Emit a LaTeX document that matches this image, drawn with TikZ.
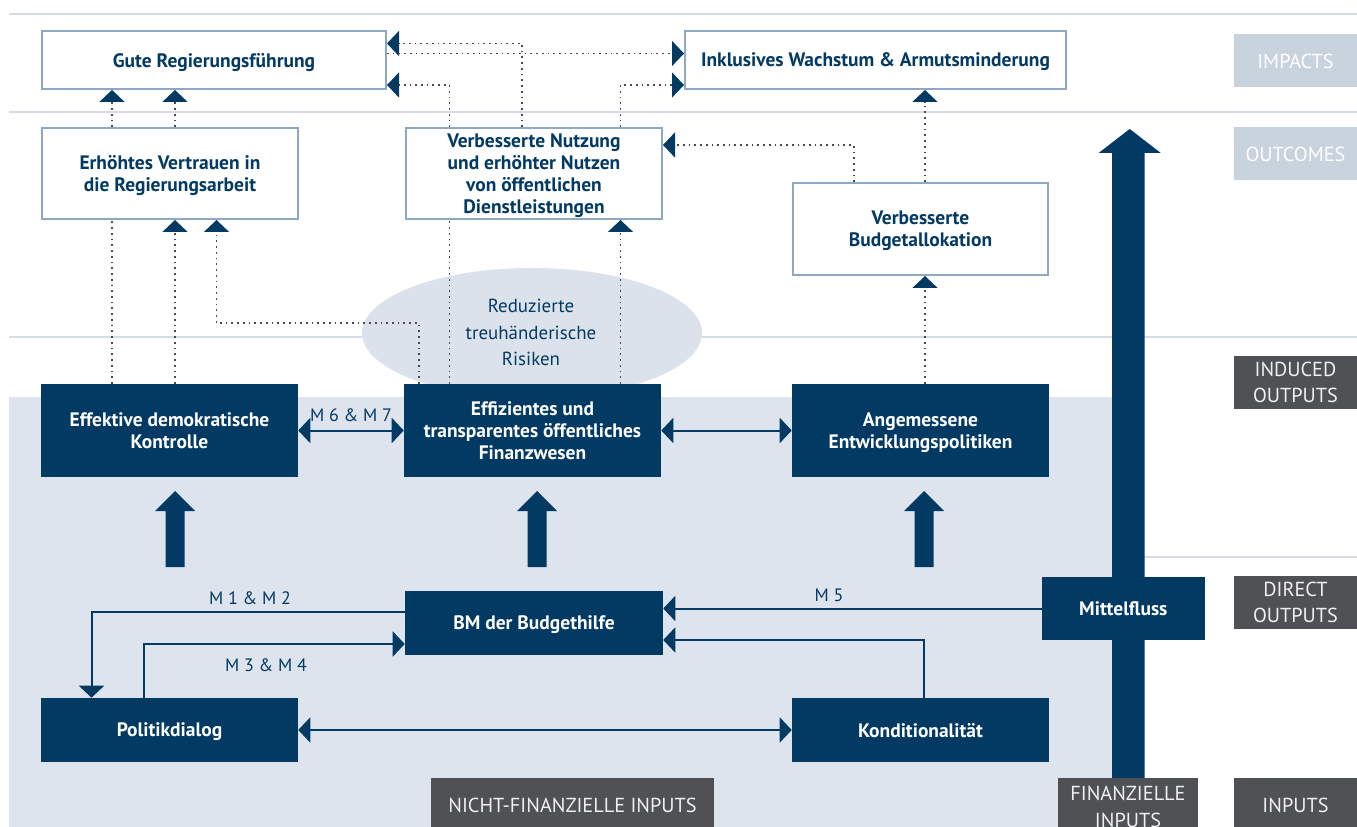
\documentclass[tikz,border=0pt]{standalone}
\usepackage{fontspec}
\setmainfont{PT Sans}
\usetikzlibrary{arrows.meta}
\definecolor{navy}{HTML}{023A63}
\definecolor{bordc}{HTML}{8EA7C5}
\definecolor{hline}{HTML}{D5DCE6}
\definecolor{shadec}{HTML}{DEE4EE}
\definecolor{ellc}{HTML}{DCE2EC}
\definecolor{labl}{HTML}{C9D3DE}
\definecolor{labd}{HTML}{4F5155}
\definecolor{dotc}{HTML}{4A4A4A}
\begin{document}
\begin{tikzpicture}[x=0.75pt,y=-0.75pt,
  wbox/.style={draw=bordc, line width=1.5pt, fill=white, text=navy, align=center, inner sep=0pt,
    text depth=-1.5pt, font=\bfseries\fontsize{14.6}{16.5}\selectfont},
  nbox/.style={fill=navy, text=white, align=center, inner sep=0pt,
    text depth=-1.5pt, font=\bfseries\fontsize{14.6}{16.5}\selectfont},
  lab/.style={fill=labl, text=white, align=center, inner sep=0pt,
    font=\fontsize{15.2}{20}\selectfont, minimum width=92.25pt, minimum height=39.75pt},
  dlab/.style={lab, fill=labd, text=white!94!black},
  mlab/.style={text=navy, inner sep=0pt, font=\fontsize{13.5}{16}\selectfont},
  dotl/.style={draw=dotc, line width=1.3pt, dash pattern=on 1.3pt off 3pt},
  conn/.style={draw=navy, line width=1.5pt},
  ar/.style={-{Triangle[width=18.75pt,length=9pt,color=navy]}},
  dar/.style={{Triangle[width=18.75pt,length=9pt,color=navy]}-{Triangle[width=18.75pt,length=9pt,color=navy]}},
  blockup/.pic={\fill[navy] (-9.5,0) -- (-9.5,-56) -- (-20,-56) -- (0,-76) -- (20,-56) -- (9.5,-56) -- (9.5,0) -- cycle;}
]
\useasboundingbox (0,0) rectangle (1357,827);
\fill[white] (0,0) rectangle (1357,827);
% level lines
\foreach \yy in {14,112,337,557} \draw[hline, line width=1.5pt] (9,\yy) -- (1357,\yy);
% shaded inputs/outputs area
\fill[shadec] (9.4,396.5) rectangle (1112,830);
% ellipse
\fill[ellc] (532,333) ellipse [x radius=127.5pt, y radius=48.75pt];
\node[text=navy, align=center, inner sep=0pt, font=\fontsize{14.2}{19.9}\selectfont] (risk) at (531,332.5) {Reduzierte\\treuhänderische\\Risiken};
% big arrow
\fill[navy] (1112,778) -- (1112,153) -- (1098.6,153) -- (1129.7,129) -- (1160.8,153) -- (1144.7,153) -- (1144.7,778) -- cycle;
% level labels
\node[lab] (limp) at (1295.5,61) {IMPACTS};
\node[lab] (lout) at (1295.5,154) {OUTCOMES};
\node[dlab] (lind) at (1295.5,382.5) {INDUCED\\OUTPUTS};
\node[dlab] (ldir) at (1295.5,602.5) {DIRECT\\OUTPUTS};
\node[dlab, minimum height=40.5pt] (linp) at (1295.5,805) {INPUTS};
\node[dlab, minimum width=105pt, minimum height=43.5pt] (lfin) at (1128,807) {FINANZIELLE\\INPUTS};
\node[dlab, minimum width=212.25pt, minimum height=40.5pt] (lnf) at (572.5,805) {NICHT-FINANZIELLE INPUTS};
% impact / outcome boxes
\node[wbox, minimum width=258pt, minimum height=43.5pt] (gute) at (214,60) {Gute Regierungsführung};
\node[wbox, minimum width=285.75pt, minimum height=43.5pt] (inkl) at (875.5,60) {Inklusives Wachstum \& Armutsminderung};
\node[wbox, minimum width=192pt, minimum height=68.25pt] (erh) at (170,173.5) {Erhöhtes Vertrauen in\\die Regierungsarbeit};
\node[wbox, minimum width=192pt, minimum height=68.25pt] (vn) at (534,173.5) {Verbesserte Nutzung\\und erhöhter Nutzen\\von öffentlichen\\Dienstleistungen};
\node[wbox, minimum width=191.25pt, minimum height=69pt] (budg) at (920.5,229) {Verbesserte\\Budgetallokation};
% induced outputs
\node[nbox, minimum width=192.75pt, minimum height=69.75pt] (eff) at (169.5,430.5) {Effektive demokratische\\Kontrolle};
\node[nbox, minimum width=192.75pt, minimum height=69.75pt] (effz) at (532.5,430.5) {Effizientes und\\transparentes öffentliches\\Finanzwesen};
\node[nbox, minimum width=192.75pt, minimum height=69.75pt] (ang) at (920.5,430.5) {Angemessene\\Entwicklungspolitiken};
% direct outputs / inputs
\node[nbox, minimum width=193.5pt, minimum height=48pt] (bm) at (534,623) {BM der Budgethilfe};
\node[nbox, minimum width=122.25pt, minimum height=47.25pt] (mit) at (1123.3,608.5) {Mittelfluss};
\node[nbox, minimum width=192.75pt, minimum height=48pt] (poli) at (169.5,730) {Politikdialog};
\node[nbox, minimum width=192.75pt, minimum height=48pt] (kond) at (920.5,730) {Konditionalität};
% helper coordinates
\coordinate (xa) at (112,0);
\coordinate (xb) at (175,0);
\coordinate (k1) at (419,323);
\coordinate (k2) at (216.5,323);
\coordinate (k3) at (449.5,85);
\coordinate (k4) at (522,43.5);
\coordinate (k5) at (0,53.5);
\coordinate (k6) at (620.5,85);
\coordinate (k7) at (854,145);
\coordinate (xg) at (620.5,0);
\coordinate (xi) at (925,0);
\coordinate (k8) at (91.5,612);
\coordinate (k9) at (144,644);
\coordinate (k11) at (923.7,640);
% dotted causal links
\draw[dotl] (eff.north -| xa) -- (erh.south -| xa);
\draw[dotl, ar] (erh.north -| xa) -- (gute.south -| xa);
\draw[dotl, ar] (eff.north -| xb) -- (erh.south -| xb);
\draw[dotl, ar] (erh.north -| xb) -- (gute.south -| xb);
\draw[dotl, ar] (effz.north -| k1) -- (k1) -- (k2) -- (erh.south -| k2);
\draw[dotl] (effz.north -| k3) -- (vn.south -| k3);
\draw[dotl, ar] (vn.north -| k3) -- (k3) -- (gute.east |- k3);
\draw[dotl, ar] (vn.north -| k4) -- (k4) -- (gute.east |- k4);
\draw[dotl, ar] (gute.east |- k5) -- (inkl.west |- k5);
\draw[dotl, ar] (effz.north -| xg) -- (vn.south -| xg);
\draw[dotl, ar] (vn.north -| k6) -- (k6) -- (inkl.west |- k6);
\draw[dotl, ar] (budg.north -| k7) -- (k7) -- (vn.east |- k7);
\draw[dotl, ar] (budg.north -| xi) -- (inkl.south -| xi);
\draw[dotl, ar] (ang.north -| xi) -- (budg.south -| xi);
% solid links
\draw[conn, dar] (eff.east) -- (effz.west) node[midway, above=5.5pt, mlab] (m67) {M 6 \& M 7};
\draw[conn, dar] (effz.east) -- (ang.west);
\draw[conn, dar] (poli.east) -- (kond.west);
\draw[conn, ar] (bm.west |- k8) -| (poli.north -| k8);
\draw[conn, ar] (poli.north -| k9) |- (bm.west |- k9);
\draw[conn, ar] (mit.west) -- (bm.east |- mit.west);
\draw[conn, ar] (kond.north -| k11) |- (bm.east |- k11);
\node[mlab] (m12) at (250,598) {M 1 \& M 2};
\node[mlab] (m34) at (266,665) {M 3 \& M 4};
\node[mlab] (m5) at (829,595) {M 5};
% block arrows
\pic at (175,567) {blockup};
\pic at (537,567) {blockup};
\pic at (924,567) {blockup};
\end{tikzpicture}
\end{document}
